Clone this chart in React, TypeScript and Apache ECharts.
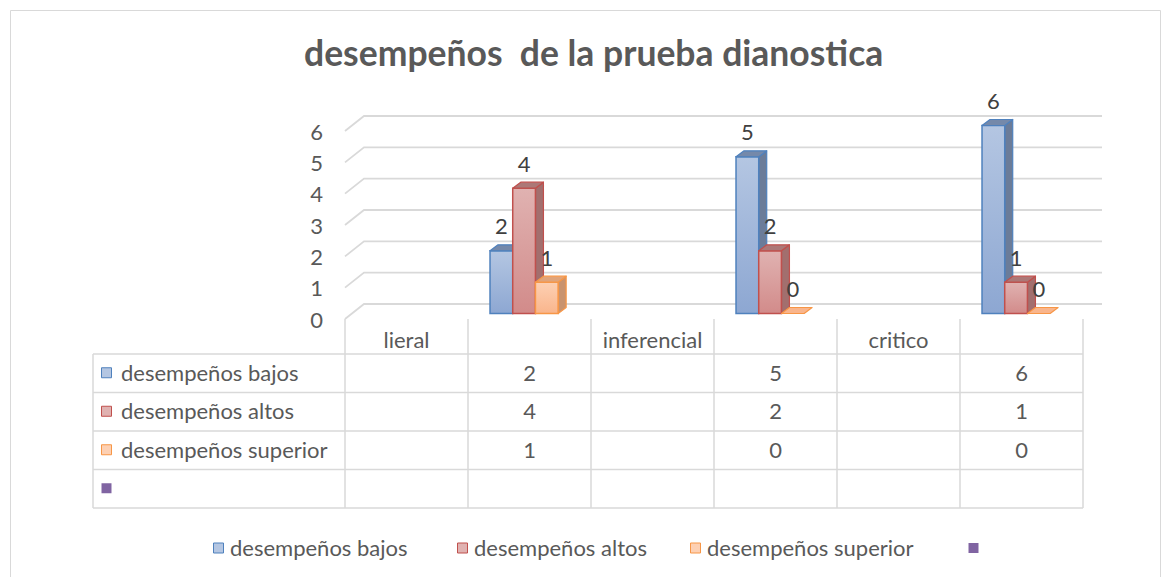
import React, { useEffect, useRef } from "react";
import * as echarts from "echarts";

// ---------- data ----------
const titleText = "desempeños  de la prueba dianostica";
const categories = ["lieral", "", "inferencial", "", "critico", ""];
const seriesNames = ["desempeños bajos", "desempeños altos", "desempeños superior", ""];
const bajos: (number | null)[] = [null, 2, null, 5, null, 6];
const altos: (number | null)[] = [null, 4, null, 2, null, 1];
const superior: (number | null)[] = [null, 1, null, 0, null, 0];
const extra: (number | null)[] = [null, null, null, null, null, null];
const seriesValues = [bajos, altos, superior, extra];
const yTicks = [0, 1, 2, 3, 4, 5, 6];

// ---------- styles ----------
const FONT = "Lato, 'Open Sans', sans-serif";
const TEXT = "#595959";
const GRID = "#D9D9D9";
const FS = 22;
const palette = [
  { border: "#4F81BD", light: "#B4C6E2", dark: "#8DA7D2", side: "#6B7C99", top: "#7589AA" },
  { border: "#C0504D", light: "#E0B2B1", dark: "#D28B8A", side: "#A26F6E", top: "#AC7877" },
  { border: "#F79646", light: "#FDD0B3", dark: "#F9B58C", side: "#C9936E", top: "#E0A47A" },
  { border: "#8064A2", light: "#8064A2", dark: "#8064A2", side: "#8064A2", top: "#8064A2" },
];

// layout
const W = 1167;
const H = 577;
const plotLeft = 345;
const plotRight = 1083;
const plotTop = 131;
const plotBottom = 319;
const depthX = 19;
const depthY = -15;
const tableLeft = 93;
const tableTop = 354;
const rowH = 38.5;
const legendY = 548;
const legendX = [213, 457, 690, 968];

export default function App() {
  const ref = useRef<HTMLDivElement>(null);

  useEffect(() => {
    document.body.style.margin = "0";
    if (!ref.current) return;
    const chart = echarts.init(ref.current, undefined, { renderer: "svg" });

    const catW = (plotRight - plotLeft) / categories.length;
    const nRows = seriesNames.length;

    const graphics: any[] = [];
    // outer frame
    graphics.push({
      type: "rect",
      shape: { x: 10.5, y: 10.5, width: 1150, height: 570 },
      style: { fill: "none", stroke: GRID, lineWidth: 1 },
      silent: true,
    });
    // table horizontal lines
    for (let r = 0; r <= nRows; r++) {
      const y = tableTop + r * rowH;
      graphics.push({
        type: "line",
        shape: { x1: tableLeft, y1: y, x2: plotRight, y2: y },
        style: { stroke: GRID, lineWidth: 1.5 },
        silent: true,
      });
    }
    // table vertical lines
    graphics.push({
      type: "line",
      shape: { x1: tableLeft, y1: tableTop, x2: tableLeft, y2: tableTop + nRows * rowH },
      style: { stroke: GRID, lineWidth: 1.5 },
      silent: true,
    });
    for (let k = 0; k <= categories.length; k++) {
      const x = plotLeft + k * catW;
      graphics.push({
        type: "line",
        shape: { x1: x, y1: plotBottom, x2: x, y2: tableTop + nRows * rowH },
        style: { stroke: GRID, lineWidth: 1.5 },
        silent: true,
      });
    }
    // header labels
    categories.forEach((c, i) => {
      if (!c) return;
      graphics.push({
        type: "text",
        x: plotLeft + (i + 0.5) * catW,
        y: (plotBottom + tableTop) / 2 + 3,
        style: { text: c, fill: TEXT, font: `${FS}px ${FONT}`, align: "center", verticalAlign: "middle" },
        silent: true,
      });
    });
    // rows
    seriesNames.forEach((name, s) => {
      const cy = tableTop + (s + 0.5) * rowH;
      const p = palette[s];
      graphics.push({
        type: "rect",
        shape: { x: tableLeft + 8.5, y: cy - 5.5, width: 10, height: 10 },
        style: { fill: p.light, stroke: p.border, lineWidth: s === 3 ? 0 : 1 },
        silent: true,
      });
      graphics.push({
        type: "text",
        x: tableLeft + 28,
        y: cy - 1,
        style: { text: name, fill: TEXT, font: `${FS}px ${FONT}`, align: "left", verticalAlign: "middle" },
        silent: true,
      });
      seriesValues[s].forEach((v, i) => {
        if (v === null) return;
        graphics.push({
          type: "text",
          x: plotLeft + (i + 0.5) * catW,
          y: cy - 1,
          style: { text: String(v), fill: TEXT, font: `${FS}px ${FONT}`, align: "center", verticalAlign: "middle" },
          silent: true,
        });
      });
      // legend
      graphics.push({
        type: "rect",
        shape: { x: legendX[s] + 0.5, y: legendY - 5, width: 10, height: 10 },
        style: { fill: p.light, stroke: p.border, lineWidth: s === 3 ? 0 : 1 },
        silent: true,
      });
      if (name) {
        graphics.push({
          type: "text",
          x: legendX[s] + 17,
          y: legendY - 1,
          style: { text: name, fill: TEXT, font: `${FS}px ${FONT}`, align: "left", verticalAlign: "middle" },
          silent: true,
        });
      }
    });

    const barSeries = seriesValues.map((vals, s) => ({
      type: "custom",
      name: seriesNames[s],
      z: 3,
      clip: false,
      data: vals
        .map((v, i) => (v === null ? null : [i, v]))
        .filter((d) => d !== null),
      renderItem: (params: any, api: any) => {
        const cat = api.value(0);
        const v = api.value(1);
        const base = api.coord([cat, 0]);
        const topP = api.coord([cat, v]);
        const bw = api.size([1, 0])[0];
        const catStart = base[0] - bw / 2;
        const w = bw * 0.1846;
        const x0 = catStart + bw * 0.179 + s * w;
        const x1 = x0 + w;
        const yb = base[1] - 5.5;
        const yt = topP[1] - 5.5;
        const dx = 8;
        const dy = -6;
        const p = palette[s];
        const children: any[] = [];
        if (v > 0) {
          children.push({
            type: "polygon",
            shape: { points: [[x1, yt], [x1 + dx, yt + dy], [x1 + dx, yb + dy], [x1, yb]] },
            style: { fill: p.side, stroke: p.border, lineWidth: 1.2, lineJoin: "round" },
          });
          children.push({
            type: "rect",
            shape: { x: x0, y: yt, width: w, height: yb - yt },
            style: {
              fill: new echarts.graphic.LinearGradient(0, 0, 0, 1, [
                { offset: 0, color: p.light },
                { offset: 1, color: p.dark },
              ]),
              stroke: p.border,
              lineWidth: 1.5,
            },
          });
        }
        children.push({
          type: "polygon",
          shape: { points: [[x0, yt], [x0 + dx, yt + dy], [x1 + dx, yt + dy], [x1, yt]] },
          style: { fill: v > 0 ? p.top : p.dark, stroke: p.border, lineWidth: 1.2, lineJoin: "round" },
        });
        children.push({
          type: "text",
          x: (x0 + x1) / 2,
          y: yt - 25,
          style: {
            text: String(v),
            fill: "#404040",
            font: `${FS}px ${FONT}`,
            align: "center",
            verticalAlign: "middle",
          },
        });
        return { type: "group", children };
      },
    }));

    const gridSeries = {
      type: "custom",
      name: "grid",
      z: 1,
      clip: false,
      silent: true,
      data: yTicks.map((t) => [0, t]),
      renderItem: (params: any, api: any) => {
        const p = api.coord([0, api.value(1)]);
        const cs = params.coordSys;
        return {
          type: "polyline",
          shape: {
            points: [
              [cs.x, p[1]],
              [cs.x + depthX, p[1] + depthY],
              [cs.x + cs.width + depthX, p[1] + depthY],
            ],
          },
          style: { stroke: GRID, lineWidth: 1.8, fill: "none" },
        };
      },
    };

    chart.setOption({
      animation: false,
      backgroundColor: "#FFFFFF",
      title: {
        text: titleText,
        left: 299,
        top: 29,
        textStyle: { color: TEXT, fontSize: 35.5, fontWeight: "bold", fontFamily: FONT },
      },
      grid: {
        left: plotLeft,
        right: W - plotRight,
        top: plotTop,
        bottom: H - plotBottom,
      },
      xAxis: {
        type: "category",
        data: categories.map((_, i) => String(i)),
        show: false,
        boundaryGap: true,
      },
      yAxis: {
        type: "value",
        min: 0,
        max: 6,
        interval: 1,
        axisLine: { show: false },
        axisTick: { show: false },
        splitLine: { show: false },
        axisLabel: { color: TEXT, fontSize: FS, fontFamily: FONT, margin: 22 },
      },
      graphic: graphics,
      series: [gridSeries, ...barSeries],
    });

    return () => chart.dispose();
  }, []);

  return <div ref={ref} style={{ width: W, height: H }} />;
}
